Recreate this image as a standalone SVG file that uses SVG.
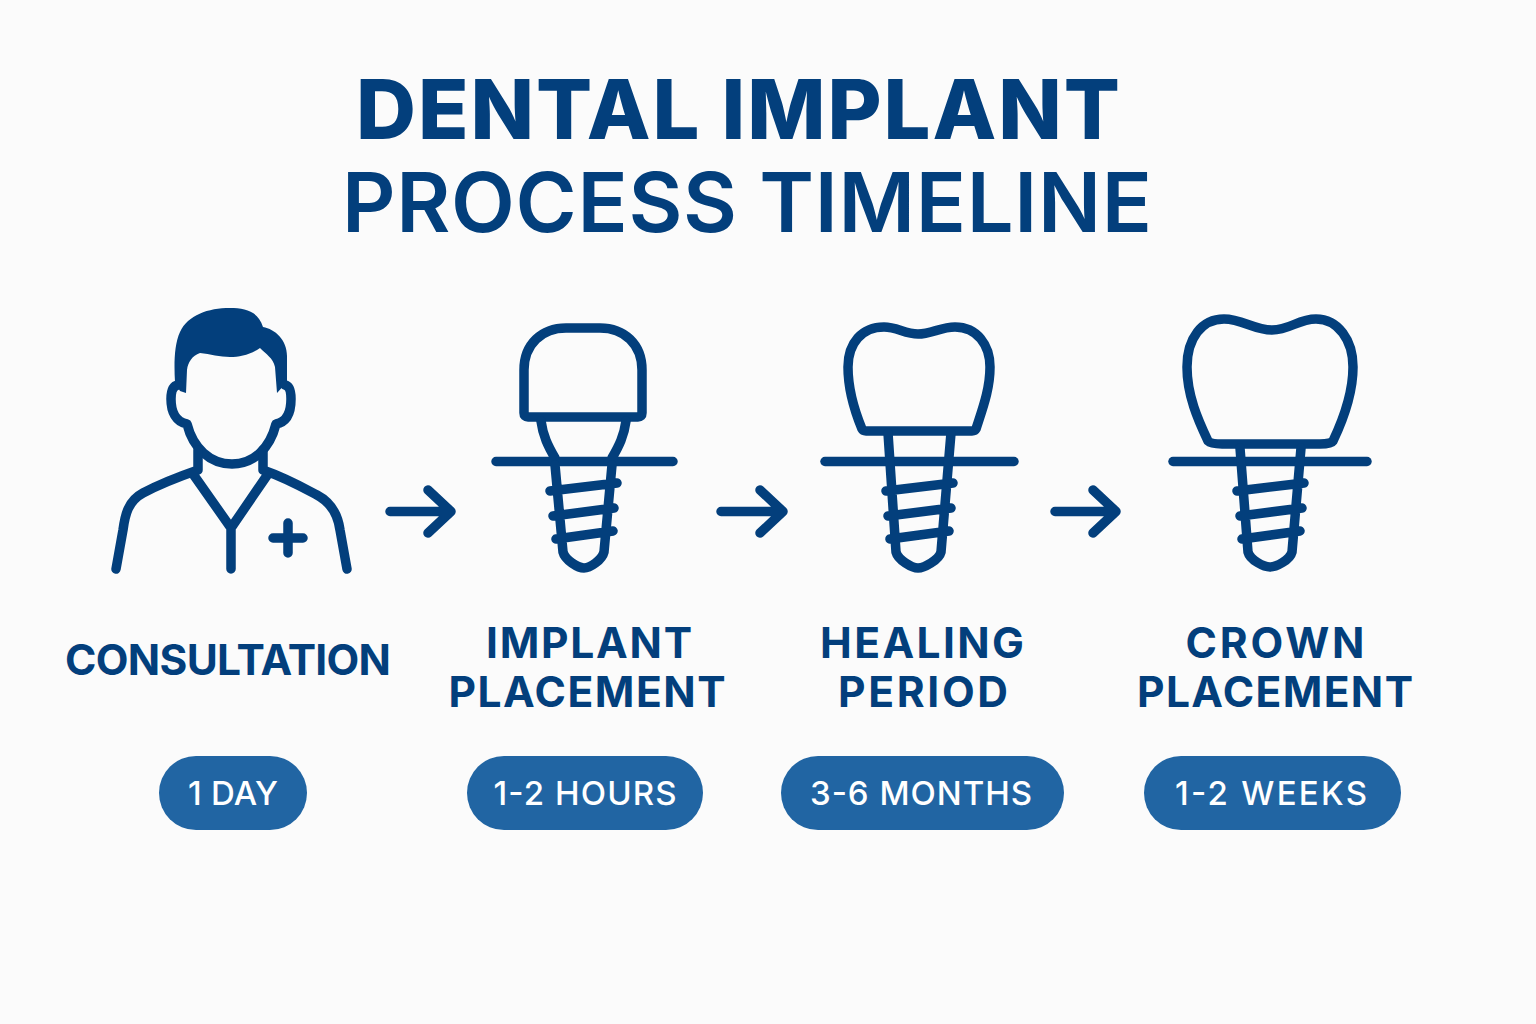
<svg xmlns="http://www.w3.org/2000/svg" width="1536" height="1024" viewBox="0 0 1536 1024">
<style>
.s{fill:none;stroke:#033f7c;stroke-width:9.500;stroke-linecap:round;stroke-linejoin:round}
.t{fill:#033f7c;font-family:Inter,"Liberation Sans",sans-serif;text-anchor:middle}
.h{font-size:83px}
.l{font-size:42.500px;font-weight:700}
.p{fill:#2165a3}
.d{fill:#fff;font-family:Inter,"Liberation Sans",sans-serif;font-size:33px;font-weight:500;text-anchor:middle}
</style>
<rect width="1536" height="1024" fill="#fbfbfb"/>
<g id="title">
<text class="t h" x="738" y="139" font-weight="800" textLength="764" lengthAdjust="spacing">DENTAL IMPLANT</text>
<text class="t h" x="747" y="232" font-weight="600" textLength="810" lengthAdjust="spacing">PROCESS TIMELINE</text>
</g>
<g id="node-consultation">
<path fill="#033f7c" d="M175 382C174 365 174 345 180 332C188 315 208 308 230 308C245 308 258 311 263 327C275 329 287 340 287 356L287 382L277 393L275 367C273 358 266 354 260 348C250 355 240 357 230 357C220 357 210 354 200 353C192 356 188 362 187 370L186 393L180 391Z"/>
<path class="s" d="M178 385C172 386 171 393 171 399C171 412 176 422 187 424C193 448 210 464 232 464C254 464 270 448 276 424C287 422 291 412 291 399C291 393 290 386 285 385"/>
<path class="s" d="M198 450V470C175 478 158 485 143 493C128 501 125 515 123 530L116 569M263 450V470C286 478 302 487 317 495C332 503 338 515 340 530L347 569M193 474L231 528L268 474M231 528V569M273 538H303M288 523V553"/>
<text class="t l" x="228" y="675" textLength="326" lengthAdjust="spacing">CONSULTATION</text>
<rect class="p" x="159" y="756" width="148" height="74" rx="37"/>
<text class="d" x="233" y="805" textLength="90" lengthAdjust="spacing">1 DAY</text>
</g>
<g id="node-implant">
<path class="s" d="M524 413V370C524 344 542 328 566 328H600C624 328 642 344 642 370V413Q642 417 638 417H528Q524 417 524 413Z"/>
<path class="s" d="M541 421C543 436 548 446 555 458M626 421C624 436 619 446 612 458M496 461.500H673"/>
<path class="s" d="M555 465L563 552C565 560 578 568 584 568C590 568 602 560 604 552L612 465M550 491L617 483M553 516L614 508M556 539L613 531"/>
<text class="t l" x="589" y="658" textLength="206" lengthAdjust="spacing">IMPLANT</text>
<text class="t l" x="587" y="707" textLength="277" lengthAdjust="spacing">PLACEMENT</text>
<rect class="p" x="467" y="756" width="236" height="74" rx="37"/>
<text class="d" x="585" y="805" textLength="183" lengthAdjust="spacing">1-2 HOURS</text>
</g>
<g id="node-healing">
<path class="s" d="M862 429C855 412 848 390 848 367C848 343 862 327 884 327C897 327 905 334 918 334C931 334 941 327 955 327C977 327 990 345 990 367C990 390 982 410 976 429Q975 431 972 431H866Q863 431 862 429Z"/>
<path class="s" d="M825 461.500H1014"/>
<path class="s" d="M888 433L896 552C898 560 912 568 918 568C924 568 939 560 941 552L951 433M886 491L953 483M888 516L951 508M890 539L949 531"/>
<text class="t l" x="922" y="658" textLength="204" lengthAdjust="spacing">HEALING</text>
<text class="t l" x="923" y="707" textLength="170" lengthAdjust="spacing">PERIOD</text>
<rect class="p" x="781" y="756" width="283" height="74" rx="37"/>
<text class="d" x="921" y="805" textLength="222" lengthAdjust="spacing">3-6 MONTHS</text>
</g>
<g id="node-crown">
<path class="s" d="M1208 441C1198 420 1187 395 1187 367C1187 338 1202 319 1224 319C1242 319 1254 330 1272 330C1290 330 1298 319 1316 319C1338 319 1353 340 1353 367C1353 395 1343 420 1333 441Q1331 444 1320 444H1222Q1211 444 1208 441Z"/>
<path class="s" d="M1173 461.500H1367"/>
<path class="s" d="M1240 448L1248 552C1250 560 1264 567 1270 567C1276 567 1290 560 1292 552L1301 448M1237 491L1304 483M1240 516L1302 508M1242 539L1300 531"/>
<text class="t l" x="1275" y="658" textLength="179" lengthAdjust="spacing">CROWN</text>
<text class="t l" x="1275" y="707" textLength="276" lengthAdjust="spacing">PLACEMENT</text>
<rect class="p" x="1144" y="756" width="257" height="74" rx="37"/>
<text class="d" x="1271" y="805" textLength="192" lengthAdjust="spacing">1-2 WEEKS</text>
</g>
<g id="connectors">
<path class="s" d="M390 511.500H451M428 490L451 511.500L428 533"/>
<path class="s" d="M721 511.500H782M760 490L783 511.500L760 533"/>
<path class="s" d="M1055 511.500H1116M1093 490L1116 511.500L1093 533"/>
</g>
</svg>
